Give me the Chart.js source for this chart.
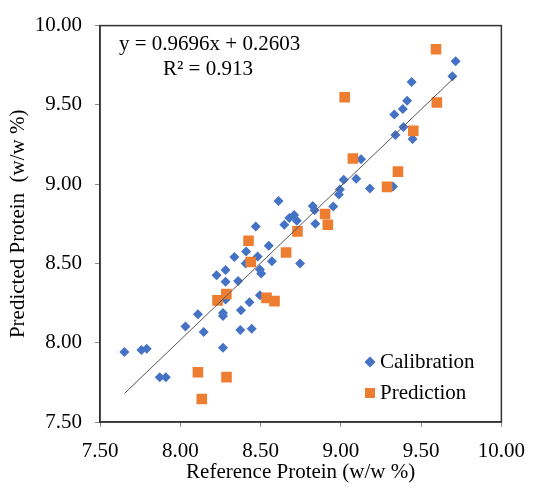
<!DOCTYPE html>
<html>
<head>
<meta charset="utf-8">
<script src="https://cdn.jsdelivr.net/npm/chart.js@4"></script>
<style>
  html, body { margin: 0; padding: 0; background: #fff; }
  #wrap { width: 537px; height: 491px; }
</style>
</head>
<body>
<div id="wrap"><canvas id="scatterChart" width="537" height="491"></canvas></div>
<script>
// Calibration set (reference, predicted)
const calRef = [9.715, 9.695, 9.441, 9.413, 9.386, 9.333, 9.39, 9.34, 9.447, 9.126,
    9.018, 9.096, 9.181, 8.994, 8.988, 8.612, 8.825, 8.837, 8.953, 8.709,
    8.679, 8.726, 8.648, 8.841, 8.47, 8.551, 8.41, 8.482, 8.337, 8.571,
    8.407, 8.746, 8.496, 8.504, 8.282, 8.226, 8.36, 8.282, 8.282, 8.11,
    8.266, 8.266, 8.032, 8.146, 7.652, 7.758, 7.791, 8.266, 7.872, 7.91,
    8.496, 8.431, 8.378, 8.374, 8.445, 9.325];
const calPred = [9.775, 9.68, 9.645, 9.526, 9.474, 9.44, 9.361, 9.31, 9.285, 9.157,
    9.028, 9.034, 8.972, 8.966, 8.935, 8.894, 8.863, 8.836, 8.859, 8.806,
    8.787, 8.770, 8.744, 8.75, 8.733, 8.612, 8.575, 8.544, 8.540, 8.514,
    8.499, 8.499, 8.462, 8.437, 8.459, 8.425, 8.39, 8.384, 8.273, 8.18,
    8.188, 8.168, 8.102, 8.067, 7.941, 7.954, 7.962, 7.968, 7.783, 7.783,
    8.30, 8.256, 8.205, 8.081, 8.088, 8.986];

// Prediction set (reference, predicted)
const predRef = [9.593, 9.598, 9.451, 9.024, 9.075, 8.902, 8.919, 8.73, 8.425, 8.659,
    8.439, 8.287, 8.232, 8.537, 8.587, 8.11, 8.288, 8.134, 9.356, 9.288];
const predPred = [9.851, 9.515, 9.336, 9.548, 9.162, 8.812, 8.744, 8.702, 8.643, 8.569,
    8.509, 8.307, 8.267, 8.283, 8.262, 7.814, 7.783, 7.645, 9.079, 8.983];

// Linear trendline of the calibration set
const slope = 0.9696;
const intercept = 0.2603;
const r2 = 0.913;

const axisTicks = [7.5, 8.0, 8.5, 9.0, 9.5, 10.0];

const toPoints = (xs, ys) => xs.map((x, i) => ({ x: x, y: ys[i] }));
const xMin = Math.min(...calRef);
const xMax = Math.max(...calRef);
const trendPoints = [xMin, xMax].map(x => ({ x: x, y: slope * x + intercept }));

const serif = "'Liberation Serif', 'Times New Roman', serif";
const blue = '#4472C4';
const orange = '#ED7D31';

// frame, equation and legend drawn on top of the plot
const decorations = {
    id: 'decorations',
    afterDraw(chart) {
        const ctx = chart.ctx;
        const a = chart.chartArea;
        ctx.save();
        ctx.strokeStyle = '#333333';
        ctx.lineWidth = 1.5;
        ctx.strokeRect(a.left, a.top, a.right - a.left, a.bottom - a.top);

        ctx.fillStyle = '#000';
        ctx.font = '21px ' + serif;
        ctx.textBaseline = 'middle';
        ctx.textAlign = 'left';
        ctx.fillText('y = ' + slope.toFixed(4) + 'x + ' + intercept.toFixed(4), a.left + 19, 44);
        ctx.fillText('R\u00B2 = ' + r2.toFixed(3), a.left + 63, 69);

        // legend
        const lx = 370;
        ctx.fillStyle = blue;
        ctx.beginPath();
        ctx.moveTo(lx - 5.5, 362); ctx.lineTo(lx, 356.5); ctx.lineTo(lx + 5.5, 362); ctx.lineTo(lx, 367.5);
        ctx.closePath();
        ctx.fill();
        ctx.fillStyle = orange;
        ctx.fillRect(lx - 5, 388, 10, 10);
        ctx.fillStyle = '#000';
        ctx.fillText('Calibration', lx + 10, 362);
        ctx.fillText('Prediction', lx + 10, 393);
        ctx.restore();
    }
};

new Chart(document.getElementById('scatterChart'), {
    type: 'scatter',
    data: {
        datasets: [
            {
                label: 'Trendline',
                type: 'line',
                data: trendPoints,
                borderColor: '#555555',
                borderWidth: 1,
                pointRadius: 0,
                fill: false,
                order: 0
            },
            {
                label: 'Prediction',
                data: toPoints(predRef, predPred),
                pointStyle: 'rect',
                pointRadius: 7.5,
                backgroundColor: orange,
                borderColor: orange,
                borderWidth: 0,
                order: 1
            },
            {
                label: 'Calibration',
                data: toPoints(calRef, calPred),
                pointStyle: 'rectRot',
                pointRadius: 5,
                backgroundColor: blue,
                borderColor: blue,
                borderWidth: 0,
                order: 2
            }
        ]
    },
    options: {
        responsive: false,
        animation: false,
        layout: { padding: { top: 17, right: 27, left: 0, bottom: 0 } },
        plugins: {
            legend: { display: false },
            tooltip: { enabled: false }
        },
        scales: {
            x: {
                type: 'linear',
                min: 7.5,
                max: 10,
                afterBuildTicks: s => { s.ticks = axisTicks.map(v => ({ value: v })); },
                afterFit: s => { s.height = 69; },
                ticks: {
                    color: '#000',
                    font: { family: serif, size: 21 },
                    padding: 12,
                    callback: v => Number(v).toFixed(2)
                },
                grid: { drawOnChartArea: false, drawTicks: true, tickLength: 5, color: '#8c8c8c' },
                border: { display: true, color: '#333333', width: 1.5 },
                title: {
                    display: true,
                    text: 'Reference Protein (w/w %)',
                    color: '#000',
                    font: { family: serif, size: 21 },
                    padding: { top: 0, bottom: 6 }
                }
            },
            y: {
                type: 'linear',
                min: 7.5,
                max: 10,
                afterBuildTicks: s => { s.ticks = axisTicks.map(v => ({ value: v })); },
                afterFit: s => { s.width = 100; },
                ticks: {
                    color: '#000',
                    font: { family: serif, size: 21 },
                    padding: 13,
                    callback: v => Number(v).toFixed(2)
                },
                grid: { drawOnChartArea: false, drawTicks: true, tickLength: 5, color: '#8c8c8c' },
                border: { display: true, color: '#333333', width: 1.5 },
                title: {
                    display: true,
                    text: 'Predicted Protein  (w/w %)',
                    color: '#000',
                    font: { family: serif, size: 21 },
                    padding: { top: 6, bottom: 0 }
                }
            }
        }
    },
    plugins: [decorations]
});
</script>
</body>
</html>
